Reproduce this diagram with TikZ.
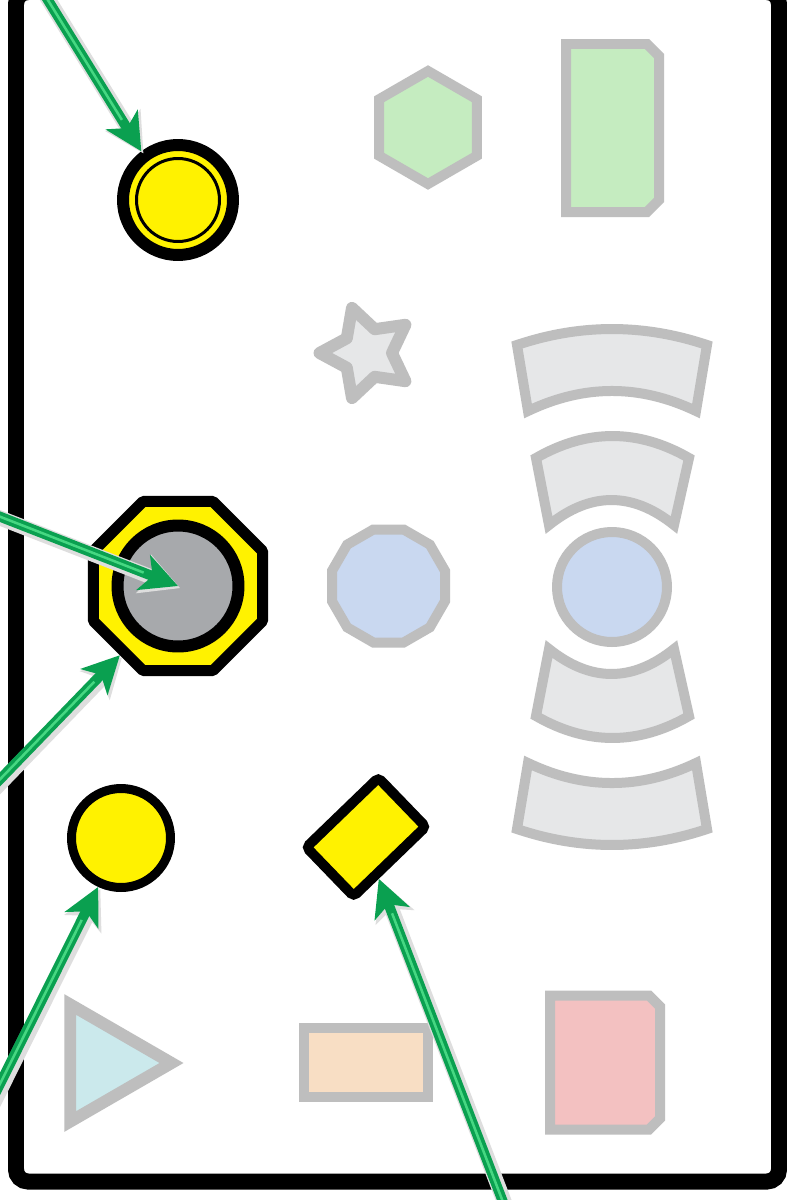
\documentclass[tikz,border=0pt]{standalone}
\usetikzlibrary{arrows.meta,shapes.geometric,calc}
\newlength\upx \setlength\upx{0.56906pt}
\definecolor{yellowc}{RGB}{255,242,0}
\definecolor{octgray}{RGB}{167,169,172}
\definecolor{decoline}{RGB}{190,190,190}
\definecolor{greenf}{RGB}{197,236,192}
\definecolor{sectf}{RGB}{230,231,232}
\definecolor{bluef}{RGB}{201,216,240}
\definecolor{cyanf}{RGB}{203,233,236}
\definecolor{peachf}{RGB}{248,222,196}
\definecolor{pinkf}{RGB}{243,193,193}
\definecolor{arrowgreen}{RGB}{10,160,80}
\definecolor{arrowlight}{RGB}{70,215,130}
\newcommand\grarrow[2]{%
  \draw[line width=15\upx, black!13, -{Stealth[length=22pt,width=23pt,inset=5pt]}, transform canvas={shift={(1.2pt,-1.2pt)}}] (#1) -- (#2);
  \draw[line width=10\upx, arrowgreen, -{Stealth[length=21pt,width=21pt,inset=5.5pt]}] (#1) -- (#2);
  \draw[line width=2.5\upx, arrowlight, shorten >=21pt] (#1) -- (#2);
}
\begin{document}
\begin{tikzpicture}[x=0.02cm,y=-0.02cm,
  deco/.style={draw=decoline, line width=10\upx, inner sep=0pt},
  bold/.style={draw=black, fill=yellowc, inner sep=0pt}]
\useasboundingbox (0,0) rectangle (787,1200);
\clip (0,0) rectangle (787,1200);
\fill[white] (0,0) rectangle (787,1200);
% frame
\draw[line width=16\upx, rounded corners=12\upx, fill=white] (16,-8) rectangle (779,1181.5);

% gray decorative shapes
\node[regular polygon, regular polygon sides=6, shape border rotate=30, deco, fill=greenf, minimum size=113\upx] (hex) at (428,127.5) {};
\draw[deco, fill=greenf] (566,44) -- (647,44) -- (659,56) -- (659,200) -- (647,212) -- (566,212) -- cycle;
\draw[deco, line width=12\upx, fill=sectf, line join=round] (319.5,353) -- (346.8,338.3) -- (352.0,307.9) -- (374.7,329.2) -- (405.4,324.8) -- (392,353) -- (405.4,381.2) -- (374.7,376.8) -- (352.0,398.1) -- (346.8,367.7) -- cycle;
\node[regular polygon, regular polygon sides=12, deco, fill=bluef, minimum size=117\upx] (dod) at (388.5,586) {};
\node[circle, deco, fill=bluef, minimum size=110\upx] (bc) at (612,587) {};
\draw[deco, fill=sectf] (517,345) .. controls (580.3,323.7) and (643.7,323.7) .. (707,345) -- (696,411) .. controls (640,384.3) and (584,384.3) .. (528,411) -- cycle;
\draw[deco, fill=sectf] (536,458) .. controls (587,428.7) and (638,428.7) .. (689,458) -- (674,525) .. controls (632.3,491.7) and (590.7,491.7) .. (549,525) -- cycle;
\draw[deco, fill=sectf] (536,716) .. controls (587,745.3) and (638,745.3) .. (689,716) -- (674,649) .. controls (632.3,682.3) and (590.7,682.3) .. (549,649) -- cycle;
\draw[deco, fill=sectf] (517,829) .. controls (580.3,850.3) and (643.7,850.3) .. (707,829) -- (696,763) .. controls (640,789.7) and (584,789.7) .. (528,763) -- cycle;
\draw[line width=12\upx, draw=decoline, fill=cyanf] (171.5,1063) -- (70.25,1004.5) -- (70.25,1121.5) -- cycle;
\draw[deco, fill=peachf] (304,1028) rectangle (428,1097);
\draw[deco, fill=pinkf] (550,995.5) -- (649,995.5) -- (660,1006.5) -- (660,1118.5) -- (649,1129.5) -- (550,1129.5) -- cycle;

% bold yellow shapes
\node[circle, bold, line width=12\upx, minimum size=110\upx] (c1) at (178,200) {};
\node[circle, draw=black, line width=3\upx, minimum size=83\upx, inner sep=0pt] (c1in) at (c1.center) {};
\node[regular polygon, regular polygon sides=8, bold, line width=11\upx, line join=round, minimum size=183\upx] (oct) at (178,586) {};
\node[circle, draw=black, fill=octgray, line width=12\upx, minimum size=121\upx, inner sep=0pt] (octin) at (oct.center) {};
\node[circle, bold, line width=9\upx, minimum size=99\upx] (c3) at (121,838) {};
\node[rectangle, bold, line width=10\upx, rounded corners=4\upx, rotate=44, minimum width=100\upx, minimum height=68\upx] (dia) at (366,837) {};

% arrows
\coordinate (a1s) at (38,-16);
\coordinate (a2s) at (-30,505);
\coordinate (a3s) at (-20,800);
\coordinate (a4s) at (-13,1110);
\coordinate (a5s) at (508,1215);
\grarrow{a1s}{c1.127.5}
\grarrow{a2s}{oct.center}
\grarrow{a3s}{oct.230}
\grarrow{a4s}{c3.245}
\grarrow{a5s}{dia.243.5}
\end{tikzpicture}
\end{document}
